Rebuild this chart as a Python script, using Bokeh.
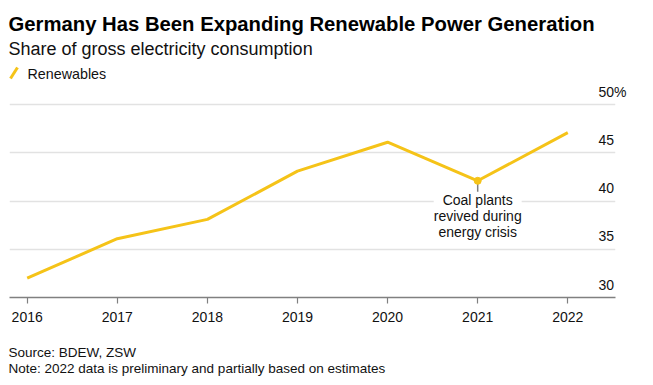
from bokeh.plotting import figure
from bokeh.models import Range1d, FixedTicker, Label
from bokeh.core.properties import value
from bokeh.embed import file_html
from bokeh.resources import INLINE

# ---- data ----
years = [2016, 2017, 2018, 2019, 2020, 2021, 2022]
renewables = [32.0, 36.1, 38.1, 43.1, 46.1, 42.1, 47.1]
year_labels = ["2016", "2017", "2018", "2019", "2020", "2021", "2022"]
y_ticks = [30, 35, 40, 45, 50]
y_tick_labels = ["30", "35", "40", "45", "50%"]
annot_year = 2021
annot_text = "Coal plants\nrevived during\nenergy crisis"

title_text = "Germany Has Been Expanding Renewable Power Generation"
subtitle_text = "Share of gross electricity consumption"
legend_text = "Renewables"
source_text = "Source: BDEW, ZSW"
note_text = "Note: 2022 data is preliminary and partially based on estimates"

FONT = "Liberation Sans"
YELLOW = "#F5C318"
TEXT = "#111111"
AXIS = "#808080"

# ---- layout (pixels) ----
W, H = 645, 377
LEFT, RIGHT, TOP, BOTTOM = 9, 615, 80, 297
X0, X1 = 2015.8036, 2022.5295
Y0, Y1 = 30, 52.5

def dx(px):
    return X0 + (px - LEFT) * (X1 - X0) / (RIGHT - LEFT)

def dy(py):
    return Y0 + (BOTTOM - py) * (Y1 - Y0) / (BOTTOM - TOP)

p = figure(width=W, height=H, output_backend="svg", toolbar_location=None,
           x_range=Range1d(X0, X1), y_range=Range1d(Y0, Y1),
           min_border_left=LEFT, min_border_right=W - RIGHT, min_border_top=TOP,
           min_border_bottom=H - BOTTOM, y_axis_location=None,
           outline_line_color=None, background_fill_color="white",
           border_fill_color="white")

# x axis
xa = p.xaxis[0]
xa.ticker = FixedTicker(ticks=years)
xa.major_label_overrides = {y: l for y, l in zip(years, year_labels)}
xa.axis_line_color = AXIS
xa.axis_line_width = 1.5
xa.major_tick_line_color = AXIS
xa.major_tick_line_width = 1.2
xa.major_tick_in = 0
xa.major_tick_out = 6
xa.minor_tick_line_color = None
xa.major_label_text_font = FONT
xa.major_label_text_font_size = "14px"
xa.major_label_text_color = TEXT
xa.major_label_standoff = 8
p.xgrid.grid_line_color = None

# y grid
p.ygrid.ticker = FixedTicker(ticks=y_ticks)
p.ygrid.grid_line_color = "#e2e2e2"
p.ygrid.grid_line_width = 1.5

# y labels (right, above gridlines)
p.text(x=[dx(598)] * len(y_ticks), y=y_ticks, text=y_tick_labels, y_offset=-13,
       text_baseline="middle", text_align="left", text_font=value(FONT),
       text_font_size="14px", text_color=TEXT, level="overlay")

# line
p.line(years, renewables, line_color=YELLOW, line_width=3)

# annotation
annot_value = renewables[years.index(annot_year)]
p.segment(x0=[annot_year], y0=[annot_value], x1=[annot_year], y1=[annot_value - 1.4],
          line_color=AXIS, line_width=1.5)
p.add_layout(Label(x=annot_year, y=annot_value, text=annot_text, text_align="center",
                   text_baseline="top", y_offset=-11, text_font=FONT,
                   text_font_size="14px", text_color=TEXT, text_line_height=1.0,
                   background_fill_color="white"))
p.scatter([annot_year], [annot_value], size=7, color=YELLOW)

# titles and notes (drawn unclipped, outside the frame)
def add_text(txt, px, py, size, style="normal"):
    p.text(x=[dx(px)], y=[dy(py)], text=[txt], text_font=value(FONT),
           text_font_size=size, text_font_style=style,
           text_color="#000000" if style == "bold" else TEXT,
           text_baseline="middle", text_align="left", level="overlay")

add_text(title_text, 8, 23, "20.3px", "bold")
add_text(subtitle_text, 8, 48, "18px")
add_text(legend_text, 27, 73, "14.3px")
add_text(source_text, 8, 351.5, "13.5px")
add_text(note_text, 8, 368, "13.5px")

# legend icon
p.segment(x0=[dx(10)], y0=[dy(78)], x1=[dx(17)], y1=[dy(67)], line_color=YELLOW,
          line_width=3, level="overlay")

open("out.html", "w").write(file_html(p, INLINE))
